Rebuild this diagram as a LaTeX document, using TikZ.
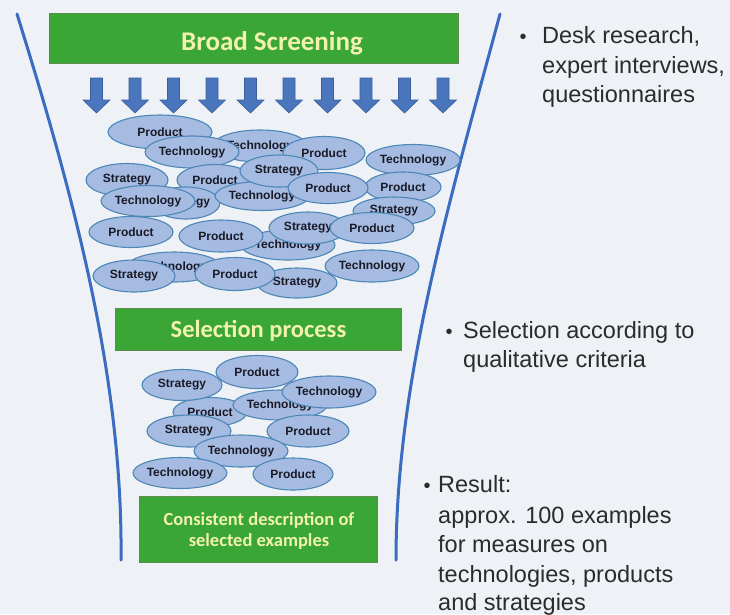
\documentclass[tikz,border=0pt]{standalone}
\usepackage{fontspec}
\setmainfont{Liberation Sans}
\newfontfamily\calibrifont{Carlito}
\usetikzlibrary{shapes.geometric}
\definecolor{bgcol}{HTML}{EEF2F6}
\definecolor{boxgreen}{HTML}{3AA635}
\definecolor{boxedge}{HTML}{5E8A4C}
\definecolor{boxtext}{HTML}{F2F2B0}
\definecolor{arrfill}{HTML}{4A76BD}
\definecolor{arrdraw}{HTML}{3A5E9E}
\definecolor{funnelcol}{HTML}{3B6CC0}
\definecolor{ellfill}{HTML}{A6BBE2}
\definecolor{ellline}{HTML}{4C87B5}
\definecolor{elltext}{HTML}{1A1A26}
\definecolor{sidetext}{HTML}{2B2B2B}
\tikzset{
  greenbox/.style={draw=boxedge, fill=boxgreen, line width=0.8pt, inner sep=0pt},
  boxlabel/.style={text=boxtext, font=\calibrifont\bfseries, inner sep=0pt},
  ell/.style={ellipse, draw=ellline, fill=ellfill, line width=1.1pt, inner sep=0pt,
    text=elltext, font=\fontsize{12}{13}\selectfont\bfseries},
  funnel/.style={draw=funnelcol, line width=3pt, line cap=round},
  downarr/.style={fill=arrfill, draw=arrdraw, line width=0.6pt, line join=miter},
  side/.style={text=sidetext, font=\fontsize{23.5}{29}\selectfont, anchor=base west, inner sep=0pt},
  bul/.style={text=sidetext, font=\fontsize{20}{24}\selectfont, anchor=base, inner sep=0pt}
}
\newcommand\ellnode[6]{\node[ell, minimum width=#4pt, minimum height=#5pt] (#1) at (#2,#3) {#6};}
\begin{document}
\begin{tikzpicture}[x=1pt, y=-1pt]
\fill[bgcol] (0,0) rectangle (730,614);
\useasboundingbox (0,0) rectangle (730,614);
% funnel
\coordinate (fl0) at (17,14);
\coordinate (fl1) at (121,560);
\coordinate (fr0) at (500,14);
\coordinate (fr1) at (396,560);
\draw[funnel] (fl0) .. controls (75,200) and (123,380) .. (fl1);
\draw[funnel] (fr0) .. controls (450,200) and (396,380) .. (fr1);
% broad screening box
\node[greenbox, minimum width=409pt, minimum height=50pt] (broad) at (253.5,38) {};
\node[boxlabel, font=\fontsize{27}{30}\selectfont\calibrifont\bfseries, anchor=base] (broadtxt) at (272,50) {Broad Screening};
% arrows
\foreach \i in {0,...,9}{
  \pgfmathsetmacro\cx{96.5+38.5*\i}
  \filldraw[downarr] (\cx-6,78) -- (\cx+6,78) -- (\cx+6,100) -- (\cx+13.5,100) -- (\cx,113) -- (\cx-13.5,100) -- (\cx-6,100) -- cycle;
}
% top cluster
\ellnode{t2}{260}{146}{80}{32}{Technology}
\ellnode{t1}{160}{132}{104}{34}{Product}
\ellnode{t3}{192}{152}{78}{32}{Technology}
\ellnode{t4}{324}{153}{82}{33}{Product}
\ellnode{t5}{413}{160}{80}{31}{Technology}
\ellnode{t7}{215}{180}{76}{31}{Product}
\ellnode{t9}{186}{203}{68}{32}{Strategy}
\ellnode{t6}{127}{180}{82}{33}{Strategy}
\ellnode{t10}{148}{201}{82}{31}{Technology}
\ellnode{t11}{262}{196}{78}{29}{Technology}
\ellnode{t8}{279}{171}{78}{32}{Strategy}
\ellnode{t13}{403}{187}{76}{30}{Product}
\ellnode{t12}{328}{188}{80}{31}{Product}
\ellnode{t14}{394}{211}{82}{28}{Strategy}
\ellnode{t19}{288}{245}{82}{30}{Technology}
\ellnode{t16}{221}{236}{84}{32}{Product}
\ellnode{t17}{308}{228}{78}{32}{Strategy}
\ellnode{t18}{372}{228}{84}{31}{Product}
\ellnode{t15}{131}{232}{84}{31}{Product}
\ellnode{t20}{372}{266}{84}{32}{Technology}
\ellnode{t21}{174}{267}{78}{30}{Technology}
\ellnode{t22}{134}{276}{82}{32}{Strategy}
\ellnode{t24}{297}{283}{80}{30}{Strategy}
\ellnode{t23}{235}{274}{80}{33}{Product}
% selection box
\node[greenbox, minimum width=286pt, minimum height=42pt] (sel) at (258,329) {};
\node[boxlabel, font=\fontsize{24.5}{28}\selectfont\calibrifont\bfseries, anchor=base] (seltxt) at (258.5,337) {Selection process};
% lower cluster
\ellnode{l4}{210}{412}{74}{29}{Product}
\ellnode{l5}{280}{405}{80}{30}{Technology}
\ellnode{l1}{257}{372}{82}{33}{Product}
\ellnode{l2}{182}{385}{80}{31}{Strategy}
\ellnode{l3}{329}{392}{82}{32}{Technology}
\ellnode{l6}{189}{431}{84}{32}{Strategy}
\ellnode{l7}{308}{431}{82}{32}{Product}
\ellnode{l8}{241}{451}{82}{32}{Technology}
\ellnode{l9}{180}{473}{80}{31}{Technology}
\ellnode{l10}{293}{474}{80}{32}{Product}
% result box
\node[greenbox, minimum width=238pt, minimum height=66pt] (res) at (258,529) {};
\node[boxlabel, font=\fontsize{18.5}{21.5}\selectfont\calibrifont\bfseries, align=center] (restxt) at (259,531) {Consistent description of\\selected examples};
% side texts
\node[bul] (b1) at (523,43) {\textbullet};
\node[side] (d1) at (542,43) {Desk research,};
\node[side] (d2) at (542,73) {expert interviews,};
\node[side] (d3) at (542,102) {questionnaires};
\node[bul] (b2) at (449,338) {\textbullet};
\node[side] (s1) at (463,338) {Selection according to};
\node[side] (s2) at (463,367) {qualitative criteria};
\node[bul] (b3) at (427,492) {\textbullet};
\node[side] (r1) at (438,492) {Result:};
\node[side] (r2) at (438,523) {approx. 100 examples};
\node[side] (r3) at (438,552) {for measures on};
\node[side] (r4) at (438,582) {technologies, products};
\node[side] (r5) at (438,610) {and strategies};
\end{tikzpicture}
\end{document}
